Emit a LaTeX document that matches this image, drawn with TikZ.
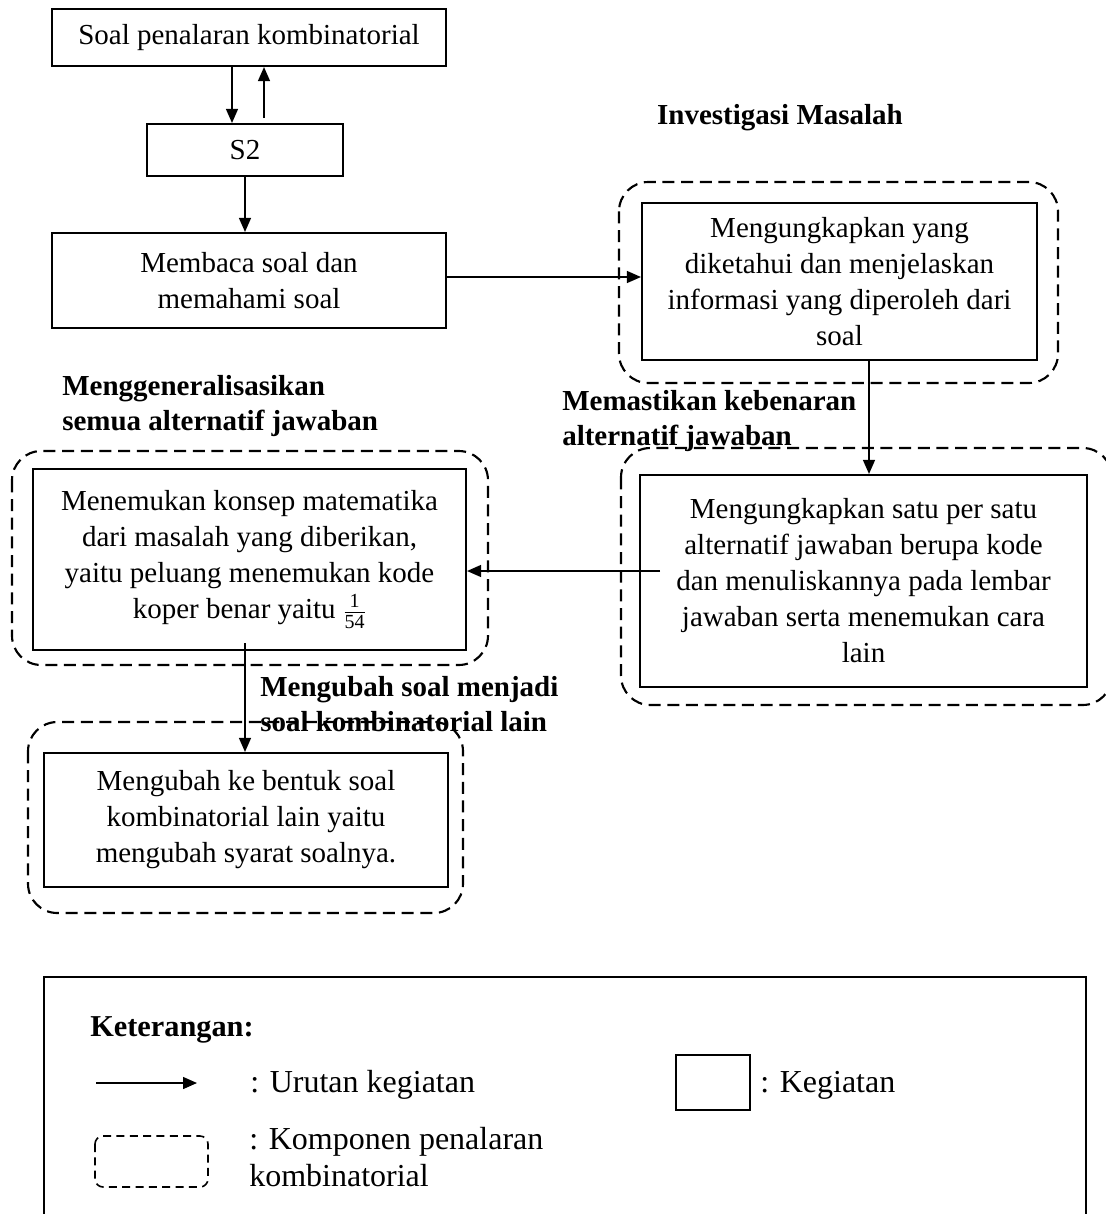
\documentclass[tikz,border=0pt]{standalone}
\usepackage{fontspec}
\setmainfont{Liberation Serif}
\usetikzlibrary{arrows.meta}

% small serif digits for the fraction inside a box
\newcommand{\fracdigits}[1]{\hbox{\fontsize{15pt}{15pt}\selectfont #1}}

\begin{document}
\begin{tikzpicture}[x=0.75pt,y=-0.75pt,
  every node/.style={font=\fontsize{21.75pt}{27pt}\selectfont},
  box/.style={draw, line width=1.6pt, align=center, inner sep=0pt},
  dashbox/.style={draw, line width=1.6pt, dash pattern=on 9pt off 5pt, rounded corners=22pt},
  flow/.style={line width=1pt, -{Triangle[length=10.5pt,width=9pt]}},
  heading/.style={font=\bfseries\fontsize{21.75pt}{26.25pt}\selectfont, inner sep=0pt, align=left},
  legtext/.style={inner sep=0pt, align=left, font=\fontsize{24pt}{27.75pt}\selectfont}
]
\useasboundingbox (0,0) rectangle (1106,1214);

% activity boxes
\node[box, minimum width=295.5pt, minimum height=42.75pt] (A) at (249,37.5) {Soal penalaran kombinatorial};
\node[box, minimum width=147pt, minimum height=39pt] (S2) at (245,150) {S2};
\node[box, minimum width=295.5pt, minimum height=71.25pt] (B) at (249,280.5) {Membaca soal dan\\memahami soal};
\node[box, minimum width=296.25pt, minimum height=117.75pt] (C) at (839.5,281.5)
  {Mengungkapkan yang\\diketahui dan menjelaskan\\informasi yang diperoleh dari\\soal};
\node[box, minimum width=335.25pt, minimum height=159pt] (D) at (863.5,581)
  {Mengungkapkan satu per satu\\alternatif jawaban berupa kode\\dan menuliskannya pada lembar\\jawaban serta menemukan cara\\lain};
\node[box, minimum width=324.75pt, minimum height=135.75pt] (E) at (249.5,559.5)
  {Menemukan konsep matematika\\dari masalah yang diberikan,\\yaitu peluang menemukan kode\\koper benar yaitu $\frac{\fracdigits{1}}{\fracdigits{54}}$};
\node[box, minimum width=303pt, minimum height=100.5pt] (F) at (246,820)
  {Mengubah ke bentuk soal\\kombinatorial lain yaitu\\mengubah syarat soalnya.};

% component headings (base anchor sits on the last line)
\node[heading, anchor=base] (hInv) at (780,124) {Investigasi Masalah};
\node[heading, anchor=base west] (hGen) at (62,430) {Menggeneralisasikan\\semua alternatif jawaban};
\node[heading, anchor=base west] (hPas) at (562,445) {Memastikan kebenaran\\alternatif jawaban};
\node[heading, anchor=base west] (hUbah) at (260,731) {Mengubah soal menjadi\\soal kombinatorial lain};

% component frames
\draw[dashbox] (619,182) rectangle (1058,383);
\draw[dashbox] (621,448) rectangle (1112,705);
\draw[dashbox] (12,451) rectangle (488,665);
\draw[dashbox] (28,722) rectangle (463,913);

% flow connectors
\coordinate (xdown) at (232,0);
\coordinate (xup) at (264,118);
\draw[flow] (xdown |- A.south) -- (xdown |- S2.north);
\draw[flow] (xup) -- (xup |- A.south);
\draw[flow] (S2.south) -- (S2.south |- B.north);
\coordinate (ybc) at (0,277);
\draw[flow] (B.east |- ybc) -- (C.west |- ybc);
\coordinate (xcd) at (869,0);
\draw[flow] (xcd |- C.south) -- (xcd |- D.north);
\coordinate (de) at (660,571);
\draw[flow] (de) -- (de -| E.east);
\coordinate (ef) at (245,643);
\draw[flow] (ef) -- (ef |- F.north);

% legend
\draw[line width=1.6pt] (44,977) rectangle (1086,1240);
\node[heading, anchor=base west, font=\bfseries\fontsize{22.75pt}{27pt}\selectfont] (kt) at (90,1036) {Keterangan:};
\coordinate (lgA) at (96,1083);
\coordinate (lgB) at (197,1083);
\draw[flow] (lgA) -- (lgB);
\node[legtext, anchor=base west] (lgU) at (250,1092) {: Urutan kegiatan};
\node[draw, line width=1.6pt, minimum width=55.5pt, minimum height=41.25pt, inner sep=0pt] (lgBox) at (713,1082.5) {};
\node[legtext, anchor=base west] (lgK) at (760,1092) {: Kegiatan};
\draw[line width=1.2pt, dash pattern=on 6pt off 4pt, rounded corners=6pt] (95,1136) rectangle (208,1187);
\node[legtext, anchor=base west] (lgKomp) at (249,1186) {: Komponen penalaran\\kombinatorial};
\end{tikzpicture}
\end{document}
